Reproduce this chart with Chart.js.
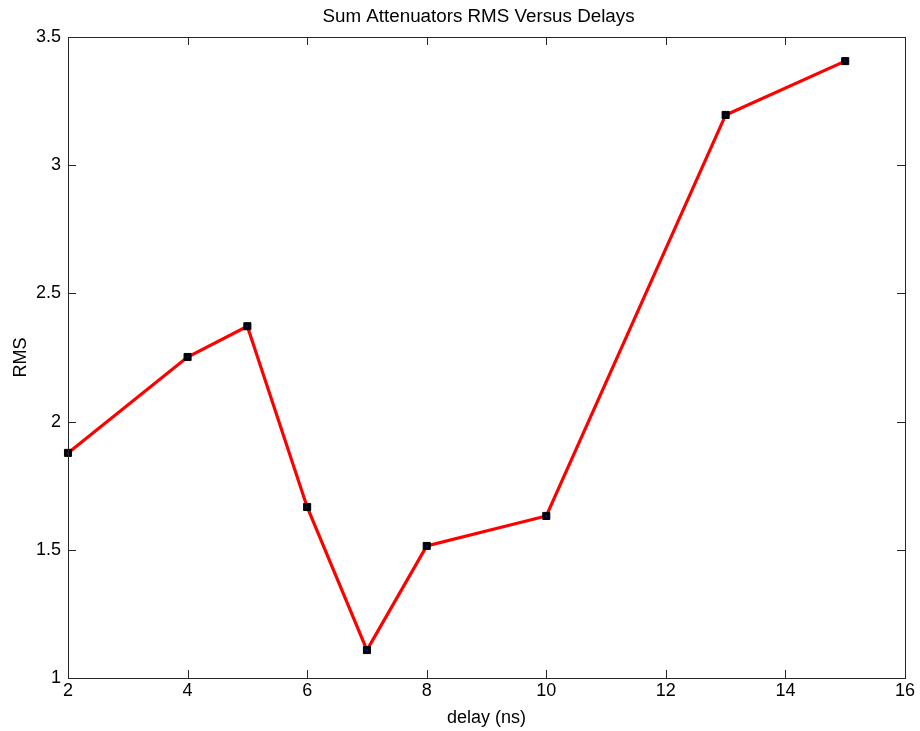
<!DOCTYPE html>
<html>
<head>
<meta charset="utf-8">
<script src="https://cdn.jsdelivr.net/npm/chart.js@4/dist/chart.umd.min.js"></script>
<style>
  html, body { margin: 0; padding: 0; background: #fff; }
  #wrap { width: 920px; height: 731px; }
</style>
</head>
<body>
<div id="wrap"><canvas id="c" width="920" height="731"></canvas></div>
<script>
// Delay settings (ns) and the summed attenuator RMS measured at each
const delays = [2, 4, 5, 6, 7, 8, 10, 13, 15];
const rmsValues = [1.878, 2.252, 2.372, 1.667, 1.109, 1.515, 1.632, 3.196, 3.406];

// Axis ranges and tick steps
const xTicks = [2, 4, 6, 8, 10, 12, 14, 16];
const yTicks = [1, 1.5, 2, 2.5, 3, 3.5];

const chartTitle = 'Sum Attenuators RMS Versus Delays';

const points = delays.map((d, i) => ({ x: d, y: rmsValues[i] }));

const AXIS_COLOR = '#262626';
const FONT = 'Liberation Sans, Arial, sans-serif';
const FONT_SIZE = 18;

// Title centred over the plot box rather than the whole canvas
const axesTitle = {
  id: 'axesTitle',
  afterDraw(chart) {
    const { ctx, chartArea: a } = chart;
    ctx.save();
    ctx.fillStyle = '#000';
    ctx.font = `18.8px ${FONT}`;
    ctx.textAlign = 'center';
    ctx.textBaseline = 'middle';
    ctx.fillText(chartTitle, (a.left + a.right) / 2 - 8, a.top - 20);
    ctx.restore();
  }
};

// Box around the plot area with inward tick marks on all four sides
const boxTicks = {
  id: 'boxTicks',
  afterDraw(chart) {
    const { ctx, chartArea: a, scales } = chart;
    const len = 8;
    ctx.save();
    ctx.strokeStyle = AXIS_COLOR;
    ctx.lineWidth = 1;
    ctx.strokeRect(Math.round(a.left) + 0.5, Math.round(a.top) + 0.5,
                   Math.round(a.right - a.left), Math.round(a.bottom - a.top));
    ctx.beginPath();
    xTicks.forEach(v => {
      const px = Math.round(scales.x.getPixelForValue(v)) + 0.5;
      ctx.moveTo(px, a.bottom); ctx.lineTo(px, a.bottom - len);
      ctx.moveTo(px, a.top); ctx.lineTo(px, a.top + len);
    });
    yTicks.forEach(v => {
      const py = Math.round(scales.y.getPixelForValue(v)) + 0.5;
      ctx.moveTo(a.left, py); ctx.lineTo(a.left + len, py);
      ctx.moveTo(a.right, py); ctx.lineTo(a.right - len, py);
    });
    ctx.stroke();
    ctx.restore();
  }
};

new Chart(document.getElementById('c'), {
  type: 'scatter',
  data: {
    datasets: [
      {
        data: points,
        showLine: true,
        clip: false,
        borderColor: '#ff0000',
        borderWidth: 3.2,
        pointStyle: 'rect',
        pointRadius: 5,
        pointBackgroundColor: '#000000',
        pointBorderColor: '#000000',
        pointBorderWidth: 1,
        order: 2
      },
      {
        data: points,
        showLine: false,
        clip: false,
        pointStyle: 'circle',
        pointRadius: 1,
        pointBackgroundColor: '#0000ff',
        pointBorderWidth: 0,
        order: 1
      }
    ]
  },
  options: {
    responsive: false,
    animation: false,
    layout: { padding: { left: 0, right: 15, top: 37, bottom: 0 } },
    plugins: {
      legend: { display: false },
      tooltip: { enabled: false },
      title: { display: false }
    },
    scales: {
      x: {
        type: 'linear',
        min: 2, max: 16,
        afterBuildTicks(scale) { scale.ticks = xTicks.map(v => ({ value: v })); },
        afterFit(scale) { scale.height = 53; },
        grid: { display: false, drawTicks: false },
        border: { display: false },
        ticks: { color: '#000', font: { family: FONT, size: FONT_SIZE }, padding: 2, maxRotation: 0,
                 callback: v => String(v) },
        title: {
          display: true, text: 'delay (ns)', color: '#000',
          font: { family: FONT, size: FONT_SIZE }, padding: { top: 0, bottom: 2 }
        }
      },
      y: {
        type: 'linear',
        min: 1, max: 3.5,
        afterBuildTicks(scale) { scale.ticks = yTicks.map(v => ({ value: v })); },
        afterFit(scale) { scale.width = 68; },
        grid: { display: false, drawTicks: false },
        border: { display: false },
        ticks: { color: '#000', font: { family: FONT, size: FONT_SIZE }, padding: 7,
                 callback: v => String(v) },
        title: {
          display: true, text: 'RMS', color: '#000',
          font: { family: FONT, size: FONT_SIZE }, padding: { top: 10, bottom: 0 }
        }
      }
    }
  },
  plugins: [boxTicks, axesTitle]
});
</script>
</body>
</html>
